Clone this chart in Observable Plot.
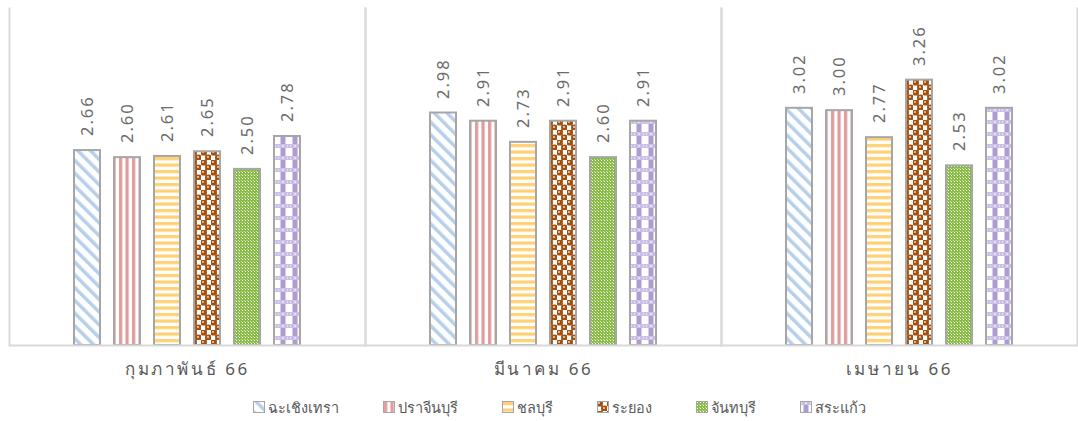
<!DOCTYPE html>
<html>
<head>
<meta charset="utf-8">
<script src="https://cdn.jsdelivr.net/npm/d3@7"></script>
<script src="https://cdn.jsdelivr.net/npm/@observablehq/plot@0.6"></script>
<style>
  html, body { margin: 0; padding: 0; background: #fff; }
  body { width: 1078px; height: 421px; overflow: hidden; font-family: "Noto Sans", "Open Sans", sans-serif; }
  #chart { position: relative; width: 1078px; height: 392px; }
  #chart svg { display: block; }
  .vlabel { position: absolute; transform-origin: 0 0; transform: rotate(-90deg) translateY(-50%); white-space: nowrap; line-height: 1; font-size: 16.5px; letter-spacing: 2px; color: #6b6b6b; font-family: "Noto Sans", sans-serif; }
  #legend { display: flex; justify-content: center; align-items: center; height: 24px; gap: 44px; color: #595959; font-size: 14.5px; padding-left: 40px; padding-top: 3px; }
  #legend .item { display: flex; align-items: center; gap: 3px; }
  #legend svg { display: block; }
</style>
</head>
<body>
<div id="chart"></div>
<div id="legend"></div>
<script>
const months = ["กุมภาพันธ์ 66", "มีนาคม 66", "เมษายน 66"];
const provinces = ["ฉะเชิงเทรา", "ปราจีนบุรี", "ชลบุรี", "ระยอง", "จันทบุรี", "สระแก้ว"];
const chachoengsao = [2.66, 2.98, 3.02];
const prachinburi = [2.60, 2.91, 3.00];
const chonburi = [2.61, 2.73, 2.77];
const rayong = [2.65, 2.91, 3.26];
const chanthaburi = [2.50, 2.60, 2.53];
const sakaeo = [2.78, 2.91, 3.02];
const series = [chachoengsao, prachinburi, chonburi, rayong, chanthaburi, sakaeo];
const patterns = ["url(#pat0)", "url(#pat1)", "url(#pat2)", "url(#pat3)", "url(#pat4)", "url(#pat5)"];
const yMin = 1;

const patternDefs = `
    <pattern id="pat0" patternUnits="userSpaceOnUse" width="9" height="9" patternTransform="rotate(-45)">
      <rect width="9" height="9" fill="#fff"/>
      <rect x="0" width="3.5" height="9" fill="#b6cfea"/>
    </pattern>
    <pattern id="pat1" patternUnits="userSpaceOnUse" width="6.5" height="6.5">
      <rect width="6.5" height="6.5" fill="#fff"/>
      <rect x="1" width="3.2" height="6.5" fill="#df9b9b"/>
    </pattern>
    <pattern id="pat2" patternUnits="userSpaceOnUse" width="6.5" height="6.5">
      <rect width="6.5" height="6.5" fill="#fff"/>
      <rect y="1" width="6.5" height="3.2" fill="#ffd072"/>
    </pattern>
    <pattern id="pat3" patternUnits="userSpaceOnUse" width="10" height="10">
      <rect width="10" height="10" fill="#fff"/>
      <circle cx="2.5" cy="2.5" r="3.1" fill="#a3500e"/>
      <circle cx="7.5" cy="7.5" r="3.1" fill="#a3500e"/>
      <rect x="4.2" y="0" width="1.6" height="10" fill="#a3500e"/>
      <circle cx="2" cy="2" r="0.9" fill="#fff" opacity="0.85"/>
      <circle cx="7" cy="7" r="0.9" fill="#fff" opacity="0.85"/>
    </pattern>
    <pattern id="pat4" patternUnits="userSpaceOnUse" width="3" height="3">
      <rect width="3" height="3" fill="#89bd45"/>
      <rect x="1" y="1" width="1" height="1" fill="#fff"/>
      <rect x="0" y="0" width="1" height="1" fill="#c8e0a5"/>
    </pattern>
    <pattern id="pat5" patternUnits="userSpaceOnUse" width="12" height="12">
      <rect width="12" height="12" fill="#fff"/>
      <rect x="3.5" y="0" width="5" height="12" fill="#ad9bd1"/>
      <rect x="0" y="0" width="12" height="4" fill="#cbbfe5"/>
      <rect x="1" y="1.5" width="1" height="1" fill="#fff"/>
      <rect x="10" y="1.5" width="1" height="1" fill="#fff"/>
      <rect x="5" y="1.5" width="2" height="1" fill="#fff"/>
    </pattern>`;

const data = [];
months.forEach((m, i) => provinces.forEach((p, j) => data.push({month: m, province: p, value: series[j][i], pat: patterns[j]})));

const chart = Plot.plot({
  width: 1078,
  height: 392,
  marginTop: 8,
  marginBottom: 47,
  marginLeft: 8,
  marginRight: 1,
  style: {fontFamily: "'Noto Sans', sans-serif", color: "#595959"},
  fx: {domain: months, padding: 0, label: null},
  x: {domain: provinces, paddingInner: 0.34, paddingOuter: 1.52, axis: null},
  y: {domain: [yMin, 3.87], axis: null},
  color: {type: "identity"},
  marks: [
    Plot.frame({anchor: "left", stroke: "#d9d9d9", strokeWidth: 2}),
    Plot.frame({anchor: "right", stroke: "#d9d9d9", strokeWidth: 2}),
    Plot.barY(data, {fx: "month", x: "province", y1: yMin, y2: "value", fill: "pat", stroke: "#a6a6a6", strokeWidth: 2}),
    Plot.ruleY([yMin], {stroke: "#d9d9d9", strokeWidth: 2}),
    Plot.axisFx({anchor: "bottom", tickSize: 0, tickPadding: 17, fontSize: 17, label: null, fill: "#595959"})
  ]
});
const defs = document.createElementNS("http://www.w3.org/2000/svg", "defs");
defs.innerHTML = patternDefs;
chart.insertBefore(defs, chart.firstChild);
d3.select(chart).selectAll("g[aria-label='fx-axis tick label'] text").style("letter-spacing", "2.6px");
const holder = document.getElementById("chart");
holder.appendChild(chart);

// vertical value labels, placed above each bar that Plot drew (bar datum = index into data)
const box = holder.getBoundingClientRect();
d3.select(chart).selectAll("g[aria-label='bar'] rect").each(function() {
  const i = d3.select(this).datum();
  const d = data[i];
  if (!d) return;
  const r = this.getBoundingClientRect();
  const lab = document.createElement("div");
  lab.className = "vlabel";
  lab.textContent = d.value.toFixed(2);
  lab.style.left = (r.left + r.width / 2 - box.left) + "px";
  lab.style.top = (r.top - box.top - 14) + "px";
  holder.appendChild(lab);
});

const legend = document.getElementById("legend");
provinces.forEach((p, j) => {
  const item = document.createElement("div");
  item.className = "item";
  item.innerHTML = `<svg width="12" height="12"><rect x="0.5" y="0.5" width="11" height="11" fill="${patterns[j]}" stroke="#a6a6a6" stroke-width="1"/></svg><span>${p}</span>`;
  legend.appendChild(item);
});
</script>
</body>
</html>
